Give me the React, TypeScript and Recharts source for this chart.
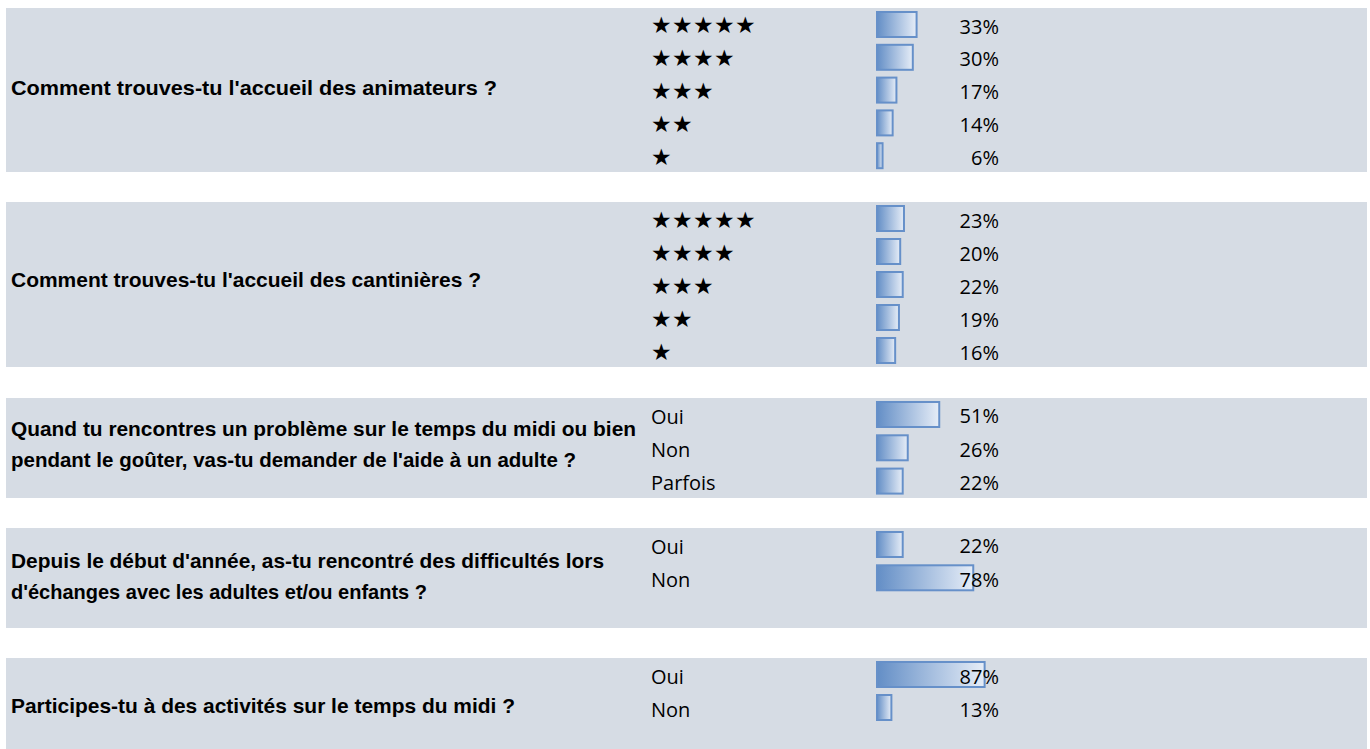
import React from "react";
import { BarChart, Bar, XAxis, YAxis, LabelList } from "recharts";

// ---------- data ----------
const STAR_CATEGORIES = ["★★★★★", "★★★★", "★★★", "★★", "★"];
const OUI_NON_PARFOIS = ["Oui", "Non", "Parfois"];
const OUI_NON = ["Oui", "Non"];

const ANIMATEURS_PCT = [33, 30, 17, 14, 6];
const CANTINIERES_PCT = [23, 20, 22, 19, 16];
const AIDE_ADULTE_PCT = [51, 26, 22];
const DIFFICULTES_PCT = [22, 78];
const ACTIVITES_PCT = [87, 13];

const QUESTION_LINES = [
  ["Comment trouves-tu l'accueil des animateurs ?"],
  ["Comment trouves-tu l'accueil des cantinières ?"],
  [
    "Quand tu rencontres un problème sur le temps du midi ou bien",
    "pendant le goûter, vas-tu demander de l'aide à un adulte ?",
  ],
  [
    "Depuis le début d'année, as-tu rencontré des difficultés lors",
    "d'échanges avec les adultes et/ou enfants ?",
  ],
  ["Participes-tu à des activités sur le temps du midi ?"],
];

// ---------- layout ----------
const PAGE_W = 1370;
const PAGE_H = 749;
const PANEL_X = 6;
const PANEL_W = 1361;
const AXIS_W = 870; // left part of each panel before the data-bar cell
const PLOT_W = 126; // data-bar cell width (100%)
const LABEL_X = 645; // category label x inside the panel
const BG = "#D6DCE4";
const BAR_BORDER = "#6690C9";

const PANEL_LAYOUT = [
  { top: 8, height: 164, rowH: 32.8, textY: [87], textW: [486] },
  { top: 202, height: 165, rowH: 33, textY: [279], textW: [470] },
  { top: 398, height: 100, rowH: 33.3, textY: [428, 459], textW: [625, 565] },
  { top: 528, height: 100, rowH: 33.3, textY: [560, 591], textW: [593, 416] },
  { top: 658, height: 91, rowH: 33, textY: [705], textW: [504] },
];

const PANEL_DATA = [
  { cats: STAR_CATEGORIES, values: ANIMATEURS_PCT },
  { cats: STAR_CATEGORIES, values: CANTINIERES_PCT },
  { cats: OUI_NON_PARFOIS, values: AIDE_ADULTE_PCT },
  { cats: OUI_NON, values: DIFFICULTES_PCT },
  { cats: OUI_NON, values: ACTIVITES_PCT },
];

const CatTick = (props: any) => {
  const { y, payload } = props;
  const v: string = payload.value;
  const isStar = v.startsWith("★");
  if (isStar) {
    return (
      <text
        x={LABEL_X}
        y={y}
        dy={1}
        dominantBaseline="central"
        fontFamily="'DejaVu Sans'"
        fontSize={23}
        letterSpacing={0.4}
        fill="#000"
      >
        {v}
      </text>
    );
  }
  return (
    <text
      x={LABEL_X}
      y={y}
      dy={1.5}
      dominantBaseline="central"
      fontFamily="'Open Sans', 'Noto Sans', sans-serif"
      fontSize={20}
      fill="#000"
    >
      {v}
    </text>
  );
};

const PctLabel = (props: any) => {
  const { x, y, height, value } = props;
  return (
    <text
      x={Number(x) + PLOT_W - 3}
      y={Number(y) + Number(height) / 2}
      dy={1.5}
      textAnchor="end"
      dominantBaseline="central"
      fontFamily="'Open Sans', 'Noto Sans', sans-serif"
      fontSize={20}
      fill="#000"
    >
      {value}%
    </text>
  );
};

const makeBarShape = (gradId: string) => (props: any) => {
  const { x, y, width, height } = props;
  if (!width || width <= 0) return <g />;
  return (
    <rect
      x={x + 1}
      y={y + 1}
      width={Math.max(width - 2, 0.5)}
      height={height - 2}
      fill={`url(#${gradId})`}
      stroke={BAR_BORDER}
      strokeWidth={2}
    />
  );
};

const Panel = ({ idx }: { idx: number }) => {
  const lay = PANEL_LAYOUT[idx];
  const d = PANEL_DATA[idx];
  const rows = d.cats.map((c, i) => ({ cat: c, v: d.values[i] }));
  const gradId = `dataBarGrad${idx}`;
  const chartH = lay.rowH * rows.length;
  return (
    <div
      style={{
        position: "absolute",
        left: PANEL_X,
        top: lay.top,
        width: PANEL_W,
        height: lay.height,
        background: BG,
      }}
    >
      <BarChart
        layout="vertical"
        width={PANEL_W}
        height={chartH}
        data={rows}
        margin={{ top: 0, right: PANEL_W - AXIS_W - PLOT_W, bottom: 0, left: 0 }}
      >
        <defs>
          <linearGradient id={gradId} x1="0" y1="0" x2="1" y2="0">
            <stop offset="0%" stopColor="#638EC6" />
            <stop offset="100%" stopColor="#E6EDF7" />
          </linearGradient>
        </defs>
        <XAxis type="number" domain={[0, 100]} hide />
        <YAxis
          type="category"
          dataKey="cat"
          width={AXIS_W}
          axisLine={false}
          tickLine={false}
          interval={0}
          tick={(p: any) => <CatTick {...p} />}
        />
        <Bar
          dataKey="v"
          barSize={27}
          isAnimationActive={false}
          shape={makeBarShape(gradId)}
        >
          <LabelList dataKey="v" content={(p: any) => <PctLabel {...p} />} />
        </Bar>
      </BarChart>
    </div>
  );
};

export default function App() {
  return (
    <div
      style={{
        position: "absolute",
        left: 0,
        top: 0,
        width: PAGE_W,
        height: PAGE_H,
        overflow: "hidden",
        background: "#fff",
      }}
    >
      {PANEL_LAYOUT.map((_, i) => (
        <Panel key={i} idx={i} />
      ))}
      <svg
        width={PAGE_W}
        height={PAGE_H}
        style={{ position: "absolute", left: 0, top: 0, pointerEvents: "none" }}
      >
        {QUESTION_LINES.map((lines, qi) =>
          lines.map((line, li) => (
            <text
              key={`${qi}-${li}`}
              x={11}
              y={PANEL_LAYOUT[qi].textY[li]}
              dominantBaseline="central"
              fontFamily="'Liberation Sans', Arial, sans-serif"
              fontWeight="bold"
              fontSize={21}
              textLength={PANEL_LAYOUT[qi].textW[li]}
              lengthAdjust="spacingAndGlyphs"
              fill="#000"
            >
              {line}
            </text>
          ))
        )}
      </svg>
    </div>
  );
}
